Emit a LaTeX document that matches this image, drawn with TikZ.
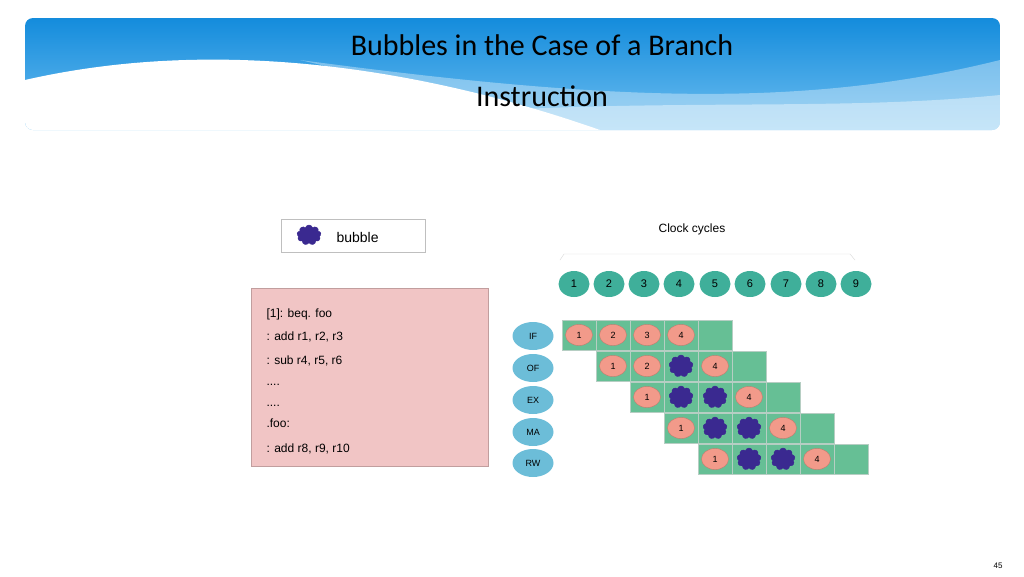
\documentclass[tikz,border=0pt]{standalone}
\usepackage{fontspec}
\setmainfont{Liberation Sans}
\newfontfamily\titlefont{Carlito}
\usetikzlibrary{shapes.symbols,shapes.geometric}
\definecolor{cellg}{HTML}{66BF95}
\definecolor{clockg}{HTML}{3FAF9A}
\definecolor{pinkc}{HTML}{F29A8A}
\definecolor{stageb}{HTML}{6CBDD8}
\definecolor{bubc}{HTML}{3A2990}
\definecolor{codebg}{HTML}{F1C5C5}
\tikzset{
 cell/.style={draw=cellg!70!black!40!white,fill=cellg,minimum width=34pt,minimum height=30pt,inner sep=0},
 pk/.style={ellipse,fill=pinkc,draw=pinkc!80!black,minimum width=27pt,minimum height=21pt,inner sep=0,font=\fontsize{9}{9}\selectfont},
 bub/.style={cloud,cloud puffs=9,fill=bubc,draw=bubc,minimum width=24pt,minimum height=22pt,inner sep=0},
 clk/.style={ellipse,fill=clockg,minimum width=31pt,minimum height=26pt,inner sep=0,font=\fontsize{11}{11}\selectfont},
 stg/.style={ellipse,fill=stageb,minimum width=41pt,minimum height=28pt,inner sep=0,font=\fontsize{9}{9}\selectfont}
}
\begin{document}
\begin{tikzpicture}[x=1pt,y=-1pt]
\useasboundingbox (0,0) rectangle (1024,576);
% banner
\begin{scope}
\clip[rounded corners=8pt] (25,18) rectangle (1000,130);
\shade[top color={rgb,255:red,20;green,140;blue,220},bottom color={rgb,255:red,110;green,190;blue,240}] (25,18) rectangle (1000,130);
\fill[white] (25,80) .. controls (200,40) and (400,60) .. (600,130) -- (25,130) -- cycle;
\fill[white,opacity=0.35] (300,60) .. controls (600,100) and (800,110) .. (1000,60) -- (1000,130) -- (600,130) -- cycle;
\fill[white,opacity=0.4] (500,110) .. controls (700,100) and (850,110) .. (1000,95) -- (1000,130) -- (600,130) -- cycle;
\end{scope}
\node[font=\titlefont\fontsize{30}{30}\selectfont] (t1) at (542,45) {Bubbles in the Case of a Branch};
\node[font=\titlefont\fontsize{30}{30}\selectfont] (t2) at (542,96) {Instruction};
% legend
\node[draw=black!25,minimum width=144pt,minimum height=33pt] (leg) at (353,235.5) {};
\node[bub,minimum width=24pt,minimum height=20pt] (lb) at (309,235) {};
\node[font=\fontsize{14}{14}\selectfont,anchor=west] (lt) at (333,237) {bubble};
% clock
\node[font=\fontsize{12}{12}\selectfont] (cc) at (692,229) {Clock cycles};
\coordinate (bl) at (560,260);
\coordinate (br) at (855,260);
\draw[black!15] (bl) -- ++(4,-6) -- (850,254) -- (br);
\foreach \i/\x in {1/574,2/609,3/644,4/679,5/715,6/750,7/786,8/821,9/856}
  \node[clk] (c\i) at (\x,284) {\i};
% code box
\node[fill=codebg,draw=codebg!80!black,minimum width=237pt,minimum height=178pt] (code) at (369.5,377) {};
\node[anchor=north west,align=left,font=\fontsize{12}{21}\selectfont] (ct) at (263,305) {[1]: beq. foo\\ [2]: add r1, r2, r3\\ [3]: sub r4, r5, r6\\ ....\\ ....\\ .foo:\\ [4]: add r8, r9, r10};
% stages
\foreach \n/\y in {IF/336,OF/368,EX/400,MA/432,RW/463}
  \node[stg] (s\n) at (533,\y) {\n};
% grid
\foreach \r in {0,...,4}{
  \foreach \c in {0,...,4}{
    \node[cell] (g\r\c) at ({579+34*(\r+\c)},{335+31*\r}) {};
  }
}
% contents
\node[pk] at (g00) {1}; \node[pk] at (g01) {2}; \node[pk] at (g02) {3}; \node[pk] at (g03) {4};
\node[pk] at (g10) {1}; \node[pk] at (g11) {2}; \node[bub] at (g12) {}; \node[pk] at (g13) {4};
\node[pk] at (g20) {1}; \node[bub] at (g21) {}; \node[bub] at (g22) {}; \node[pk] at (g23) {4};
\node[pk] at (g30) {1}; \node[bub] at (g31) {}; \node[bub] at (g32) {}; \node[pk] at (g33) {4};
\node[pk] at (g40) {1}; \node[bub] at (g41) {}; \node[bub] at (g42) {}; \node[pk] at (g43) {4};
\node[font=\fontsize{8}{8}\selectfont] (pg) at (998,566) {45};
\end{tikzpicture}
\end{document}
